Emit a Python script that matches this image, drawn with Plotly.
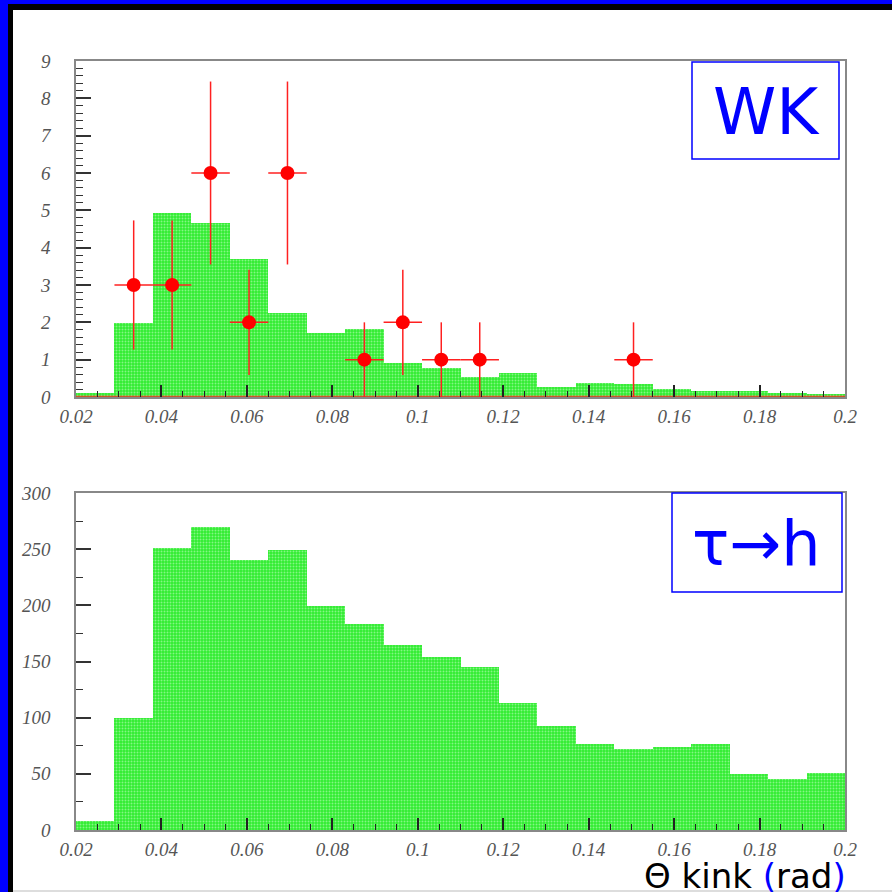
import plotly.graph_objects as go

# ---------------- data ----------------
bin_centers = [0.0245, 0.0335, 0.0425, 0.0515, 0.0605, 0.0695, 0.0785, 0.0875, 0.0965, 0.1055,
               0.1145, 0.1235, 0.1325, 0.1415, 0.1505, 0.1595, 0.1685, 0.1775, 0.1865, 0.1955]
bin_width = 0.009
x_range = [0.02, 0.2]

wk_mc = [0.12, 1.97, 4.94, 4.67, 3.70, 2.26, 1.71, 1.83, 0.92, 0.78,
         0.54, 0.65, 0.26, 0.38, 0.34, 0.21, 0.17, 0.15, 0.12, 0.08]

wk_data_x = [0.0335, 0.0425, 0.0515, 0.0605, 0.0695, 0.0875, 0.0965, 0.1055, 0.1145, 0.1505]
wk_data_y = [3, 3, 6, 2, 6, 1, 2, 1, 1, 1]
wk_data_err = [1.73, 1.73, 2.45, 1.41, 2.45, 1.0, 1.41, 1.0, 1.0, 1.0]
wk_data_xerr = [0.0045] * 10

tau_mc = [8, 100, 251, 270, 240, 249, 199, 183, 165, 154,
          145, 113, 93, 77, 72, 74, 77, 50, 45, 51]

x_tickvals = [0.02, 0.04, 0.06, 0.08, 0.1, 0.12, 0.14, 0.16, 0.18, 0.2]
x_ticktext = ["0.02", "0.04", "0.06", "0.08", "0.1", "0.12", "0.14", "0.16", "0.18", "0.2"]
y1_tickvals = [0, 1, 2, 3, 4, 5, 6, 7, 8, 9]
y2_tickvals = [0, 50, 100, 150, 200, 250, 300]

W = H = 892
def px(x):
    return x / W
def py(y):
    return 1 - y / H

GREEN_BG = "#30ec30"
GREEN_FG = "#d8ffd8"
pattern = dict(shape=".", bgcolor=GREEN_BG, fgcolor=GREEN_FG, size=3, solidity=0.35)

fig = go.Figure()

fig.add_trace(go.Bar(x=bin_centers, y=wk_mc, width=[bin_width] * len(bin_centers),
                     marker=dict(color=GREEN_BG, line=dict(width=0), pattern=pattern),
                     xaxis="x", yaxis="y", showlegend=False))
fig.add_trace(go.Scatter(x=x_range, y=[0.02, 0.02], mode="lines",
                         line=dict(color="#ff2020", width=1.2),
                         xaxis="x", yaxis="y", showlegend=False, cliponaxis=False))
fig.add_trace(go.Scatter(x=wk_data_x, y=wk_data_y, mode="markers",
                         marker=dict(color="#ff0000", size=14),
                         error_y=dict(type="data", array=wk_data_err, color="#ff2020", thickness=1.5, width=0),
                         error_x=dict(type="data", array=wk_data_xerr, color="#ff2020", thickness=1.5, width=0),
                         xaxis="x", yaxis="y", showlegend=False))

fig.add_trace(go.Bar(x=bin_centers, y=tau_mc, width=[bin_width] * len(bin_centers),
                     marker=dict(color=GREEN_BG, line=dict(width=0), pattern=pattern),
                     xaxis="x2", yaxis="y2", showlegend=False))

tickfont = dict(family="Liberation Serif", size=19, color="#555555", style="italic")

xcommon = dict(range=x_range, tickvals=x_tickvals, ticktext=x_ticktext, ticks="inside",
               ticklen=12, tickwidth=1.5, tickcolor="#222222", showgrid=False, zeroline=False,
               showline=True, linecolor="#888888", linewidth=1.5, mirror=True, automargin=False,
               tickfont=tickfont, ticklabelstandoff=1,
               minor=dict(dtick=0.005, tick0=0.02, ticks="inside", ticklen=6, tickcolor="#222222", tickwidth=1),
               domain=[px(76), px(845)])

ycommon = dict(ticks="inside", ticklen=15, tickwidth=1.5, tickcolor="#333333", showgrid=False,
               zeroline=False, showline=True, linecolor="#888888", linewidth=1.5, mirror=True,
               automargin=False, tickfont=tickfont, ticklabelstandoff=20)

fig.update_layout(
    width=W, height=H, margin=dict(l=0, r=0, t=0, b=0, pad=0, autoexpand=False),
    paper_bgcolor="white", plot_bgcolor="white", bargap=0,
    xaxis=dict(**xcommon, anchor="y"),
    yaxis=dict(**ycommon, range=[0, 9], tickvals=y1_tickvals, domain=[py(397), py(61)], anchor="x",
               minor=dict(dtick=0.2, ticks="inside", ticklen=7, tickcolor="#333333", tickwidth=1)),
    xaxis2=dict(**xcommon, anchor="y2"),
    yaxis2=dict(**ycommon, range=[0, 300], tickvals=y2_tickvals, domain=[py(830), py(493)], anchor="x2",
                minor=dict(dtick=25, ticks="inside", ticklen=7, tickcolor="#333333", tickwidth=1)),
)

shapes = [
    # frame of the slide
    dict(type="rect", xref="paper", yref="paper", x0=0, x1=px(8), y0=0, y1=1,
         fillcolor="#0000ff", line=dict(width=0), layer="above"),
    dict(type="rect", xref="paper", yref="paper", x0=0, x1=1, y0=py(4), y1=1,
         fillcolor="#0000ff", line=dict(width=0), layer="above"),
    dict(type="rect", xref="paper", yref="paper", x0=px(8), x1=px(13), y0=0, y1=py(4),
         fillcolor="#000000", line=dict(width=0), layer="above"),
    dict(type="rect", xref="paper", yref="paper", x0=px(8), x1=1, y0=py(10), y1=py(4),
         fillcolor="#000000", line=dict(width=0), layer="above"),
    dict(type="line", xref="paper", yref="paper", x0=px(13), x1=1, y0=py(891), y1=py(891),
         line=dict(color="#bbbbbb", width=1), layer="above"),
    # label boxes
    dict(type="rect", xref="paper", yref="paper", x0=px(692), x1=px(839), y0=py(159), y1=py(62),
         fillcolor="white", line=dict(color="#0000ff", width=1.5), layer="above"),
    dict(type="rect", xref="paper", yref="paper", x0=px(672), x1=px(842), y0=py(592), y1=py(493),
         fillcolor="white", line=dict(color="#0000ff", width=1.5), layer="above"),
]
fig.update_layout(shapes=shapes)

annotations = [
    dict(text="WK", xref="paper", yref="paper", x=px(766), y=py(112), xanchor="center", yanchor="middle",
         showarrow=False, font=dict(family="DejaVu Sans", size=64, color="#0000ff")),
    dict(text="τ→h", xref="paper", yref="paper", x=px(756), y=py(543), xanchor="center", yanchor="middle",
         showarrow=False, font=dict(family="DejaVu Sans", size=62, color="#0000ff")),
    dict(text="Θ kink <span style='color:#0000ff'>(</span>rad<span style='color:#0000ff'>)</span>",
         xref="paper", yref="paper", x=px(848), y=py(876), xanchor="right", yanchor="middle",
         showarrow=False, font=dict(family="DejaVu Sans", size=34, color="#000000")),
]
fig.update_layout(annotations=annotations)

fig.write_html("out.html")
